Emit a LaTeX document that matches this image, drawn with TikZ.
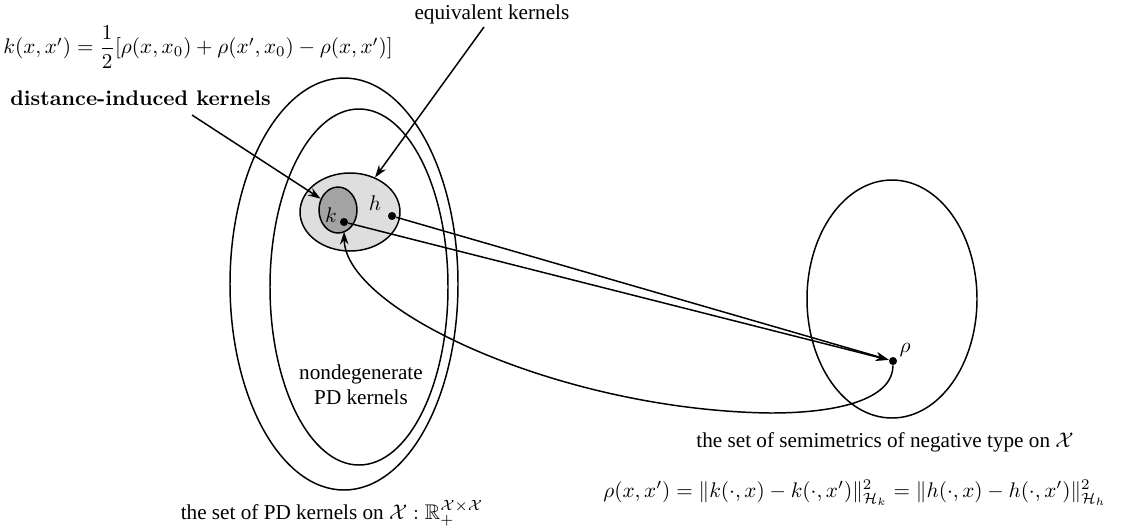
\documentclass[tikz,border=0pt]{standalone}
\usepackage{amsmath,amssymb}
\usepackage{fontspec}
\newfontfamily\tnr{Liberation Serif}
\usepackage{tikz}
\usetikzlibrary{arrows.meta,shapes.geometric}

\newcommand{\pxu}{0.472pt}

\begin{document}
\begin{tikzpicture}[
  x=\pxu, y=-\pxu,
  zone/.style={draw, ellipse, line width=0.7pt, inner sep=0pt},
  pnt/.style={circle, fill, inner sep=0pt, minimum size=3.8pt},
  lbl/.style={font=\tnr, align=center, inner sep=1pt},
  arr/.style={line width=0.7pt, -{Stealth[length=6pt,width=4pt,inset=2pt]}},
]
  \useasboundingbox (0,0) rectangle (1131,531);

  % PD kernels and the nondegenerate ones
  \node[zone, minimum width=228*\pxu, minimum height=412*\pxu] (pdset) at (344,284) {};
  \node[zone, minimum width=178*\pxu, minimum height=356*\pxu] (ndset) at (359,287) {};

  % equivalent kernels around k
  \node[zone, fill=black!13, minimum width=100*\pxu, minimum height=78*\pxu] (eqset) at (350,212) {};
  \node[zone, fill=black!36, minimum width=38*\pxu, minimum height=46*\pxu] (kset) at (338,210) {};

  % semimetrics of negative type
  \node[zone, minimum width=170*\pxu, minimum height=238*\pxu] (negset) at (892,299) {};

  % points
  \node[pnt] (kdot)   at (344,222) {};
  \node[pnt] (hdot)   at (392,216) {};
  \node[pnt] (rhodot) at (893,361) {};
  \node (klbl)   at (331,215) {$k$};
  \node (hlbl)   at (375,203) {$h$};
  \node (rholbl) at (905,350) {$\rho$};

  % labels
  \node[anchor=west, inner sep=0pt] (kform) at (3,47)
    {$k(x,x')=\dfrac{1}{2}[\rho(x,x_0)+\rho(x',x_0)-\rho(x,x')]$};
  \node[anchor=west, inner sep=0pt] (distlbl) at (10,98) {\textbf{distance-induced kernels}};
  \node[lbl, anchor=west] (eqlbl) at (412,14) {equivalent kernels};
  \node[lbl] (ndlbl) at (361,385) {nondegenerate\\PD kernels};
  \node[lbl] (pdlbl) at (332,513)
    {the set of PD kernels on $\mathcal{X}:\mathbb{R}_+^{\mathcal{X}\times\mathcal{X}}$};
  \node[lbl] (neglbl) at (885,442) {the set of semimetrics of negative type on $\mathcal{X}$};
  \node (rhoform) at (855,493)
    {$\rho(x,x')=\|k(\cdot,x)-k(\cdot,x')\|^2_{\mathcal{H}_k}=\|h(\cdot,x)-h(\cdot,x')\|^2_{\mathcal{H}_h}$};

  % arrows
  \coordinate (disttail) at (192,115);
  \coordinate (eqtail)   at (484,27);
  \draw[arr] (disttail) -- (kset);
  \draw[arr] (eqtail) -- (eqset);
  \draw[arr] (hdot) -- (rhodot);
  \draw[arr] (kdot) -- (rhodot);
  \draw[arr, shorten >=2.5pt] (rhodot) .. controls (893,395) and (850,413) .. (770,413)
    .. controls (560,410) and (345,310) .. (kdot);
\end{tikzpicture}
\end{document}
